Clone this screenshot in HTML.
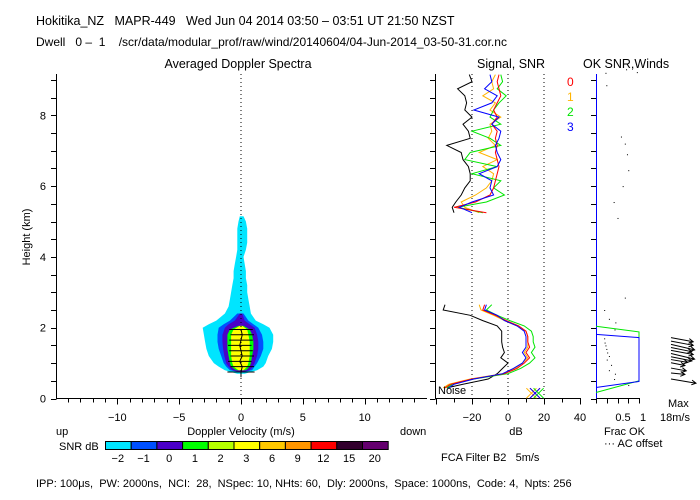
<!DOCTYPE html>
<html><head><meta charset="utf-8"><style>
html,body{margin:0;padding:0;background:#fff}
svg{display:block;font-family:"Liberation Sans",sans-serif}
text{fill:#000;white-space:pre}
</style></head><body>
<svg id="c" width="700" height="500" viewBox="0 0 700 500" xmlns="http://www.w3.org/2000/svg" xml:space="preserve">
<g font-size="12.5">
<text x="36" y="25">Hokitika_NZ   MAPR-449   Wed Jun 04 2014 03:50 – 03:51 UT 21:50 NZST</text>
<text x="36" y="46" font-size="12">Dwell   0 –  1    /scr/data/modular_prof/raw/wind/20140604/04-Jun-2014_03-50-31.cor.nc</text>
<text x="238" y="68" text-anchor="middle">Averaged Doppler Spectra</text>
<text x="477" y="68">Signal, SNR</text>
<text x="583" y="68">OK SNR,Winds</text>
</g>
<g id="spec"></g>
<g id="sig"></g>
<g id="wind"></g>
<g id="bottom" font-size="11">
<text x="56" y="435">up</text>
<text x="241" y="435" text-anchor="middle">Doppler Velocity (m/s)</text>
<text x="400" y="435">down</text>
<text x="59" y="450">SNR dB</text>
<text x="516" y="435" text-anchor="middle">dB</text>
<text x="604" y="435">Frac OK</text>
<text x="604" y="447">··· AC offset</text>
<text x="668" y="407">Max</text>
<text x="660" y="421">18m/s</text>
<text x="441" y="461">FCA Filter B2   5m/s</text>
<text x="36" y="487">IPP: 100μs,  PW: 2000ns,  NCI:  28,  NSpec: 10, NHts: 60,  Dly: 2000ns,  Space: 1000ns,  Code: 4,  Npts: 256</text>
</g>
<g id="cbar"></g>
</svg>
<script>
// ---- data ----
const specHeights = [0.7,0.8,0.9,1.0,1.2,1.4,1.6,1.8,2.0,2.1,2.2,2.4,2.6,2.8,3.0,3.2,3.4,3.6,3.8,4.0,4.2,4.4,4.6,4.8,5.0,5.15];
const cyanL = [-0.3,-1.3,-1.8,-2.2,-2.6,-2.8,-2.9,-3.0,-3.1,-2.6,-2.0,-1.3,-1.0,-0.9,-0.8,-0.7,-0.6,-0.6,-0.5,-0.4,-0.3,-0.3,-0.3,-0.3,-0.2,-0.1];
const cyanR = [0.3,1.3,1.8,2.0,2.2,2.5,2.6,2.6,2.3,1.8,1.2,0.8,0.7,0.6,0.5,0.5,0.4,0.4,0.3,0.2,0.4,0.5,0.5,0.5,0.4,0.2];
const blueHeights = [0.75,0.8,0.9,1.0,1.2,1.4,1.6,1.8,2.0,2.1,2.2,2.4];
const blueL = [-0.2,-0.9,-1.2,-1.4,-1.6,-1.8,-1.9,-1.9,-1.8,-1.4,-0.9,-0.3];
const blueR = [0.2,0.9,1.1,1.3,1.6,1.8,1.8,1.7,1.4,1.0,0.6,0.2];
const purpleL = [-0.1,-0.7,-1.0,-1.2,-1.35,-1.45,-1.5,-1.5,-1.3,-1.0,-0.5,-0.1];
const purpleR = [0.1,0.7,0.95,1.1,1.3,1.4,1.4,1.3,1.1,0.7,0.3,0.1];
const greenHeights = [0.8,0.9,1.0,1.2,1.4,1.6,1.8,1.95,2.05];
const greenL = [-0.4,-0.8,-0.9,-1.0,-1.1,-1.1,-1.1,-0.9,-0.2];
const greenR = [0.4,0.7,0.8,0.9,1.0,1.0,0.9,0.7,0.2];
const yellowL = [-0.2,-0.6,-0.7,-0.8,-0.8,-0.8,-0.8,-0.6,-0.1];
const yellowR = [0.2,0.5,0.6,0.7,0.7,0.7,0.6,0.5,0.1];
const peakHeights = [0.75,0.9,1.05,1.2,1.35,1.5,1.65,1.8,1.95];
const peakVel = [0.0,0.1,-0.1,0.1,0.0,-0.1,0.0,0.1,0.0];
const velTicks = [-10,-5,0,5,10];

const upperH = [9.15,8.95,8.75,8.55,8.35,8.15,7.95,7.75,7.55,7.35,7.15,6.95,6.75,6.55,6.35,6.15,5.95,5.75,5.55,5.4,5.25];
const upBlack = [-21.5,-20,-28,-24,-23,-24,-20,-25,-22,-21,-34,-26,-25,-22,-21,-21,-24,-26,-29,-31,-30];
const upRed = [-5,-6,-5,-4,-6,-8,-6,-9,-6,-7,-6,-7,-6,-5,-6,-7,-8,-10,-18,-30,-12];
const upYellow = [-7,-9,-8,-14,-7,-10,-4,-10,-9,-11,-7,-16,-6,-14,-8,-9,-12,-18,-26,-24,-16];
const upGreen = [-4,-3,-6,-1,-5,-8,-10,-4,-20,-10,-4,-21,-24,-6,-20,-4,-8,-2,-12,-28,-14];
const upBlue = [-10,-9,-13,-6,-9,-19,-5,-9,-4,-5,-7,-6,-4,-6,-16,-9,-10,-8,-20,-27,-20];
const lowerH = [2.65,2.5,2.35,2.2,2.05,1.9,1.75,1.6,1.45,1.3,1.15,1.0,0.85,0.7,0.55,0.4,0.3];
const lowBlack = [-35,-36,-21,-14,-6,-3.5,-3.5,-3.5,-3,-2,-4,0,-3,-6,-11,-25,-34];
const lowRed = [-13,-14,-7,-1,6,10,11,11,12,10,12,9,5,-2,-20,-32,-35];
const lowYellow = [-16,-15,-8,-2,5,10,11,11,11,9,11,8,4,-3,-21,-33,-36];
const lowGreen = [-9,-12,-6,1,9,13,14,14,15,13,15,12,7,0,-19,-31,-34];
const lowBlue = [-12,-13,-6,-2,5,9,10,10,10,8,10,8,3,-3,-19,-30,-33];
const noiseDb = [13,15,15,17];
const dbTicks = [-20,0,20,40];

const fracGreenH = [0.17,0.5,1.88,2.04];
const fracGreen = [0,1,1,0];
const fracBlueH = [0.31,0.48,1.72,1.81];
const fracBlue = [0,1,1,0];
const acH = [9.2,8.85,7.4,7.2,6.9,6.45,6.0,5.55,5.1,2.85,2.5,2.25,2.15,1.95,1.7,1.58,1.5,1.4,1.3,1.2,1.1,0.95,0.8,0.7,0.55,0.38,9.3,9.22];
const acF = [0.22,0.24,0.58,0.67,0.72,0.75,0.62,0.41,0.5,0.67,0.19,0.3,0.45,0.43,0.19,0.2,0.22,0.24,0.26,0.3,0.25,0.35,0.3,0.44,0.42,0.75,0.7,0.95];
const windH = [1.72,1.62,1.53,1.44,1.36,1.27,1.18,1.1,1.01,0.86,0.72,0.55];
const windU = [16,16,17,15,16,17,15,12,10,11,10,18];
const windV = [-3,-3,-4,-3,-3,-4,-3,-2,-2,-2,-1,-3];
const cbarLabels = ["-2","-1","0","1","2","3","6","9","12","15","20"];
const cbarColors = ["#00e5ff","#0050ff","#4b00c8","#00ff00","#b4ff00","#ffff00","#ffc800","#ff9600","#ff0000","#32002d","#64006e"];

// ---- scales ----
const y0 = 398.5, kmPx = 35.4;
const yS = h => y0 - h*kmPx;
const vS = v => 241 + v*12.37;
const dS = d => 508 + d*1.8;
const fS = f => 596 + f*43;
const NS = "http://www.w3.org/2000/svg";
function mk(parent, tag, attrs){const e=document.createElementNS(NS,tag);for(const k in attrs)e.setAttribute(k,attrs[k]);parent.appendChild(e);return e;}

const spec=document.getElementById('spec'), sig=document.getElementById('sig'), wind=document.getElementById('wind'), cbar=document.getElementById('cbar');

function band(hs,L,R,color,name){
  const pts=[];
  for(let i=0;i<hs.length;i++)pts.push(vS(L[i]).toFixed(1)+','+yS(hs[i]).toFixed(1));
  for(let i=hs.length-1;i>=0;i--)pts.push(vS(R[i]).toFixed(1)+','+yS(hs[i]).toFixed(1));
  const p=mk(spec,'polygon',{points:pts.join(' '),fill:color});
  
  
}
band(specHeights,cyanL,cyanR,'#00e5ff','snr-contour-cyan');
band(blueHeights,blueL,blueR,'#0050ff','snr-contour-blue');
band(blueHeights,purpleL,purpleR,'#4b00c8','snr-contour-purple');
band(greenHeights,greenL,greenR,'#00ff00','snr-contour-green');
band(greenHeights,yellowL,yellowR,'#ffff00','snr-contour-yellow');
{
  const pts=peakHeights.map((h,i)=>vS(peakVel[i])+','+yS(h)).join(' ');
  const pl=mk(spec,'polyline',{points:pts,fill:'none',stroke:'#000','stroke-width':1});
  
  
  peakHeights.forEach((h,i)=>{
    const w = i===0?1.1:0.95;
    const l=mk(spec,'line',{x1:vS(peakVel[i]-w),x2:vS(peakVel[i]+w),y1:yS(h),y2:yS(h),stroke:'#000','stroke-width':1});
    
    
  });
  const st=mk(spec,'line',{x1:vS(0),x2:vS(0),y1:yS(0.75),y2:yS(0.6),stroke:'#000'});
  
  
}
{
  const z=mk(spec,'line',{x1:vS(0),x2:vS(0),y1:74,y2:y0,stroke:'#000','stroke-dasharray':'1,3'});
  
  
}
function axisLine(g,x1,y1,x2,y2,name,color){
  const l=mk(g,'line',{x1,y1,x2,y2,stroke:color||'#000','stroke-width':1});
  
  
}
axisLine(spec,56.5,74,56.5,y0,'y-axis');
axisLine(spec,56,y0,427,y0,'x-axis');
for(let h=0;h<=9;h+=0.5){const y=Math.round(yS(h))+0.5;axisLine(spec,51,y,56.5,y,'y-tick');}
axisLine(sig,435.5,74,435.5,y0,'signal-y-axis');
axisLine(sig,435,y0,581,y0,'signal-x-axis');
for(let h=0;h<=9;h+=0.5){const y=Math.round(yS(h))+0.5;axisLine(sig,430,y,435.5,y,'signal-y-tick');}
axisLine(wind,596.5,y0,640,y0,'winds-x-axis');
for(let h=0;h<=9;h+=0.5){const y=Math.round(yS(h))+0.5;axisLine(wind,591,y,596.5,y,'winds-y-tick');}
for(let f=0;f<=1.001;f+=0.25){const x=Math.round(fS(f))+0.5;axisLine(wind,x,y0,x,y0+5,'frac-tick');}
for(let v=-14;v<=14;v++){const x=Math.round(vS(v))+0.5;axisLine(spec,x,y0,x,y0+(v%5===0?6:4),'x-tick');}
for(let d=-40;d<=40;d+=10){const x=Math.round(dS(d))+0.5;axisLine(sig,x,y0,x,y0+(d%20===0?6:4),'signal-x-tick');}
[0,2,4,6,8].forEach(h=>{
  const t=mk(spec,'text',{x:46,y:yS(h)+4,'text-anchor':'end','font-size':11});t.textContent=h;
  
  
});
{const t=mk(spec,'text',{x:0,y:0,'font-size':11,'text-anchor':'middle',transform:'translate(30,237) rotate(-90)'});t.textContent='Height (km)';

}
velTicks.forEach(v=>{
  const t=mk(spec,'text',{x:vS(v),y:421,'text-anchor':'middle','font-size':11});t.textContent=v<0?'−'+(-v):v;
  
  
});
dbTicks.forEach(d=>{
  const t=mk(sig,'text',{x:dS(d),y:421,'text-anchor':'middle','font-size':11});t.textContent=d<0?'−'+(-d):d;
  
  
});
[['0.5',623],['1',643]].forEach(([s,x])=>{
  const t=mk(wind,'text',{x:x,y:421,'text-anchor':'middle','font-size':11});t.textContent=s;
  
  
});
[-20,0,20].forEach(d=>{
  const l=mk(sig,'line',{x1:dS(d),x2:dS(d),y1:74,y2:y0,stroke:'#000','stroke-dasharray':'1,3'});
  
  
});
function series(hs,vals,color,name){
  const pts=hs.map((h,i)=>dS(vals[i]).toFixed(1)+','+yS(h).toFixed(1)).join(' ');
  const p=mk(sig,'polyline',{points:pts,fill:'none',stroke:color,'stroke-width':1});
  
  
}
series(upperH,upBlack,'#000','noise-upper');
series(upperH,upYellow,'#ffb400','snr-beam1-upper');
series(upperH,upGreen,'#00e600','snr-beam2-upper');
series(upperH,upRed,'#ff0000','snr-beam0-upper');
series(upperH,upBlue,'#0000ff','snr-beam3-upper');
series(lowerH,lowBlack,'#000','noise-lower');
series(lowerH,lowGreen,'#00e600','snr-beam2-lower');
series(lowerH,lowYellow,'#ffb400','snr-beam1-lower');
series(lowerH,lowRed,'#ff0000','snr-beam0-lower');
series(lowerH,lowBlue,'#0000ff','snr-beam3-lower');
const xCols=['#ffb400','#ff0000','#0000ff','#00e600'];
noiseDb.forEach((d,i)=>{
  const x=dS(d),y=yS(0.15);
  const p=mk(sig,'path',{d:`M${x-5},${y-5}L${x+5},${y+5}M${x-5},${y+5}L${x+5},${y-5}`,stroke:xCols[i],fill:'none'});
  
  
});
{const t=mk(sig,'text',{x:438,y:394,'font-size':11});t.textContent='Noise';

}
[['0','#ff0000'],['1','#ffb400'],['2','#00e600'],['3','#0000ff']].forEach(([s,c],i)=>{
  const t=mk(sig,'text',{x:567,y:86+i*15,'font-size':12,fill:c,style:'fill:'+c});t.textContent=s;
  
  
});
axisLine(wind,596.5,74,596.5,y0,'winds-y-axis','#0000ff');
function fracLine(hs,vals,color,name){
  const pts=hs.map((h,i)=>fS(vals[i]).toFixed(1)+','+yS(h).toFixed(1)).join(' ');
  const p=mk(wind,'polyline',{points:pts,fill:'none',stroke:color,'stroke-width':1});
  
  
}
fracLine(fracGreenH,fracGreen,'#00e600','frac-ok-green');
fracLine(fracBlueH,fracBlue,'#0000ff','frac-ok-blue');
acH.forEach((h,i)=>{
  const r=mk(wind,'rect',{x:fS(acF[i]),y:yS(h),width:1,height:1,fill:'#000'});
  
  
});
const ws=25/18;
windH.forEach((h,i)=>{
  const x1=671,y1=yS(h),x2=x1+windU[i]*ws,y2=y1-windV[i]*ws;
  const a=Math.atan2(y2-y1,x2-x1);
  const hx1=x2-5*Math.cos(a-0.5),hy1=y2-5*Math.sin(a-0.5),hx2=x2-5*Math.cos(a+0.5),hy2=y2-5*Math.sin(a+0.5);
  const p=mk(wind,'path',{d:`M${x1},${y1}L${x2},${y2}M${hx1},${hy1}L${x2},${y2}L${hx2},${hy2}`,stroke:'#000',fill:'none'});
  
  
});
cbarColors.forEach((c,i)=>{
  const r=mk(cbar,'rect',{x:105.5+i*25.7,y:441.5,width:25.7,height:8,fill:c,stroke:'#000'});
  
  
  const t=mk(cbar,'text',{x:105+i*25.7+12.8,y:462,'text-anchor':'middle','font-size':11});t.textContent=cbarLabels[i].replace('-','−');
  
  
});
</script>
</body></html>
